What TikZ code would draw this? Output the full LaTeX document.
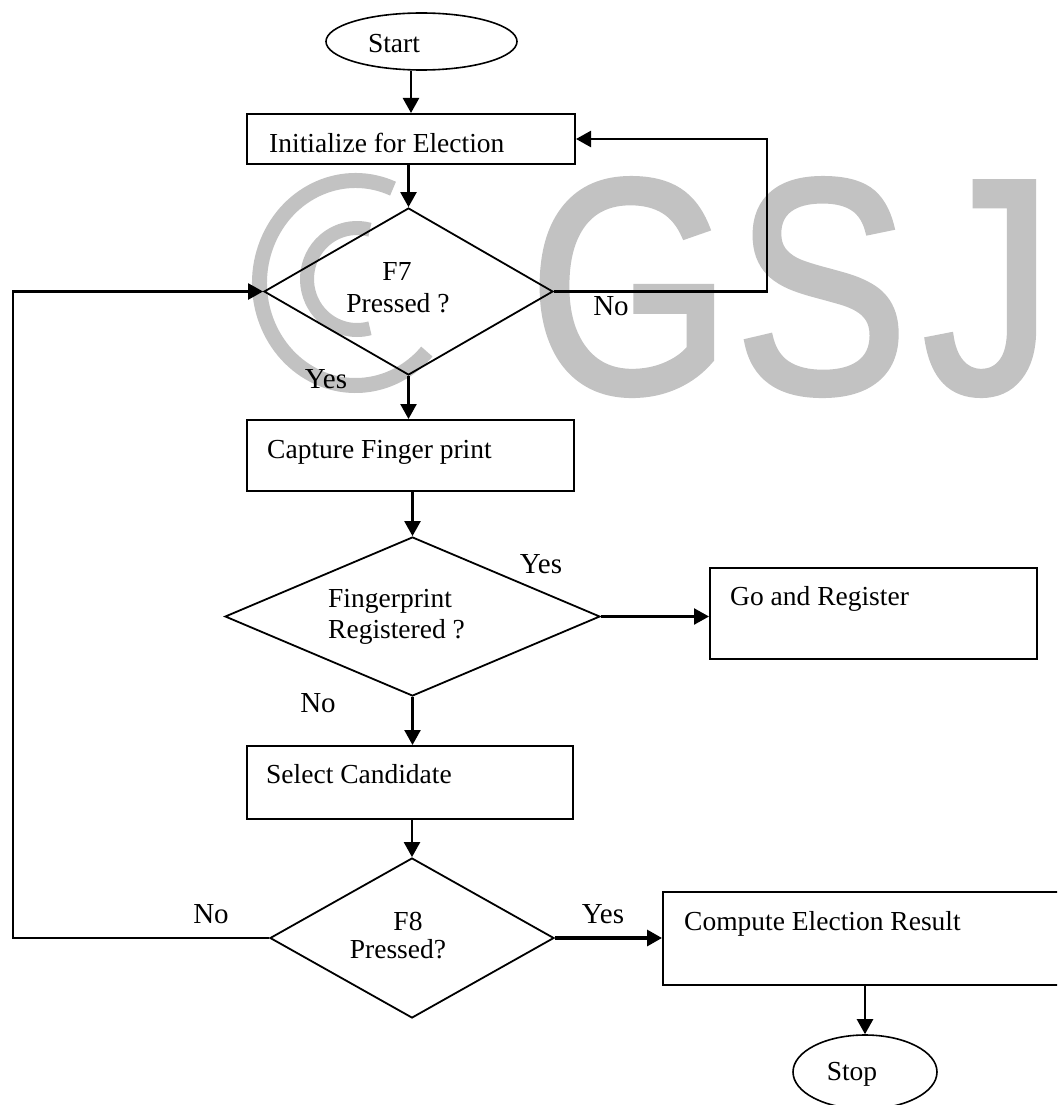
\documentclass[tikz,border=0pt]{standalone}
\usepackage{fontspec}
\setmainfont{Liberation Serif}
\newfontfamily\wmfont[FakeBold=2]{Liberation Sans}
\usepackage{graphicx}
\usetikzlibrary{shapes.geometric,arrows.meta}
\definecolor{wmgray}{gray}{0.76}
\begin{document}
\begin{tikzpicture}[x=1pt,y=-1pt,
  box/.style={draw,line width=2pt,inner sep=0pt},
  dec/.style={draw,diamond,line width=1.8pt,inner sep=0pt},
  term/.style={draw,ellipse,line width=1.6pt,inner sep=0pt},
  txt/.style={inner sep=0pt,anchor=base west,font=\fontsize{27.5}{32}\selectfont},
  ctxt/.style={inner sep=0pt,anchor=base,font=\fontsize{27.5}{32}\selectfont},
  lbl/.style={inner sep=0pt,anchor=base,font=\fontsize{29}{32}\selectfont},
  arr/.style={line width=2.4pt,-{Triangle[length=15pt,width=16pt]}},
  wm/.style={inner sep=0pt,anchor=base,text=wmgray,font=\wmfont\fontsize{305}{305}\selectfont},
  wmring/.style={draw=wmgray,line width=15pt}
]
\useasboundingbox (0,0) rectangle (1057,1105);
\clip (0,0) rectangle (1057,1105);

% watermark
\draw[wmring] (355.5,283) ++(67:96pt and 102.5pt) arc[start angle=67,end angle=318,x radius=96pt,y radius=102.5pt];
\draw[wmring,line width=14pt] (357,279) ++(75:50pt and 51pt) arc[start angle=75,end angle=285,x radius=50pt,y radius=51pt];
\node[wm] (wg) at (630,392) {\scalebox{0.85}[1]{G}};
\node[wm] (ws) at (821.5,392) {\scalebox{0.85}[1]{S}};
\node[wm] (wj) at (988,392) {\scalebox{0.85}[1]{J}};

% shapes
\node[term, minimum width=191pt, minimum height=57pt] (start) at (421.5,41.5) {};
\node[box, minimum width=328pt, minimum height=50pt] (init) at (411,139) {};
\node[dec, minimum width=289pt, minimum height=167pt] (f7) at (408.5,291.5) {};
\node[box, minimum width=327pt, minimum height=71pt] (capture) at (410.5,455.5) {};
\node[dec, minimum width=375pt, minimum height=159pt] (fp) at (412.5,616.5) {};
\node[box, minimum width=327pt, minimum height=91pt] (goreg) at (873.5,613.5) {};
\node[box, minimum width=326pt, minimum height=73pt] (select) at (410,782.5) {};
\node[dec, minimum width=284pt, minimum height=160pt] (f8) at (412,938) {};
\node[box, minimum width=417pt, minimum height=93pt] (compute) at (871.5,938.5) {};
\node[term, minimum width=144pt, minimum height=74pt] (stop) at (865,1072) {};

% texts
\node[ctxt] (tstart) at (394,53) {Start};
\node[txt] (tinit) at (269,152) {Initialize for Election};
\node[ctxt] (tf7a) at (397,280) {F7};
\node[ctxt] (tf7b) at (398,312) {Pressed ?};
\node[txt] (tcap) at (267,458) {Capture Finger print};
\node[txt] (tfpa) at (328,607) {Fingerprint};
\node[txt] (tfpb) at (328,638) {Registered ?};
\node[txt] (tgo) at (730,605) {Go and Register};
\node[txt] (tsel) at (266,783) {Select Candidate};
\node[ctxt] (tf8a) at (408,930) {F8};
\node[ctxt] (tf8b) at (398,958) {Pressed?};
\node[txt] (tcomp) at (684,930) {Compute Election Result};
\node[ctxt] (tstop) at (852,1080) {Stop};

% labels
\node[lbl] (y1) at (326,388) {Yes};
\node[lbl] (n1) at (611,315) {No};
\node[lbl] (y2) at (541,573) {Yes};
\node[lbl] (n2) at (318,712) {No};
\node[lbl] (n3) at (211,923) {No};
\node[lbl] (y3) at (603,923) {Yes};

% helper coordinates
\coordinate (rx) at (767,0);
\coordinate (lx) at (13,0);

% connectors
\draw[arr] (start.south -| init.north) -- (init.north);
\draw[arr] (init.south -| f7.north) -- (f7.north);
\draw[arr] (f7.east) -- (f7.east -| rx) |- (init.east);
\draw[arr] (f7.south) -- (f7.south |- capture.north);
\draw[arr] (capture.south -| fp.north) -- (fp.north);
\draw[arr] (fp.east) -- (fp.east -| goreg.west);
\draw[arr] (fp.south) -- (fp.south |- select.north);
\draw[arr] (select.south -| f8.north) -- (f8.north);
\draw[arr] (f8.west) -- (f8.west -| lx) |- (f7.west);
\draw[arr, line width=3.2pt] (f8.east) -- (f8.east -| compute.west);
\draw[arr] (compute.south -| stop.north) -- (stop.north);
\end{tikzpicture}
\end{document}
